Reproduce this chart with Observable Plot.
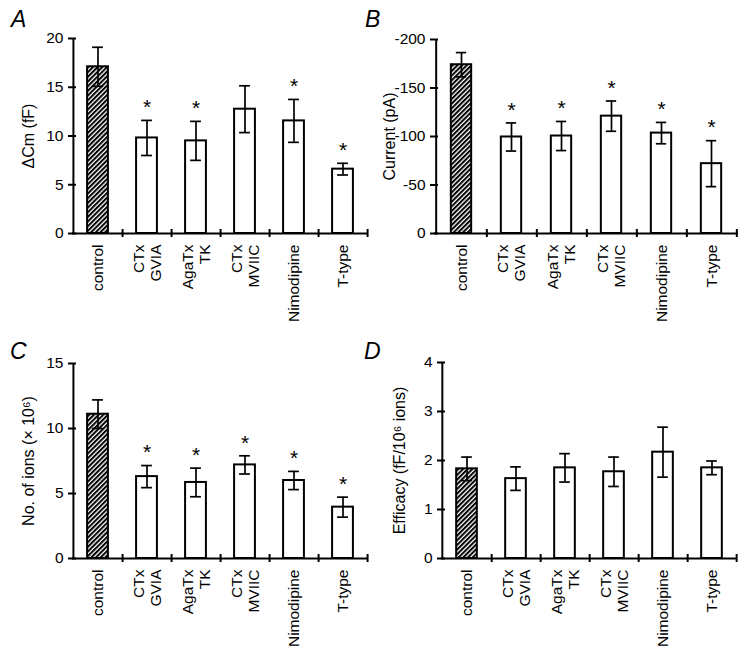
<!DOCTYPE html>
<html>
<head>
<meta charset="utf-8">
<script src="https://cdn.jsdelivr.net/npm/d3@7"></script>
<script src="https://cdn.jsdelivr.net/npm/@observablehq/plot@0.6"></script>
<style>
  html, body { margin: 0; padding: 0; background: white; }
  #root { position: relative; width: 745px; height: 655px; background: white; overflow: hidden; font-family: "Liberation Sans", Arial, sans-serif; }
  .panel { position: absolute; }
  .letter { position: absolute; font-style: italic; font-size: 23px; color: black; line-height: 1; }
</style>
</head>
<body>
<div id="root"></div>
<script>
// ---- data ----
const categories = ["control", "CTx GVIA", "AgaTx TK", "CTx MVIIC", "Nimodipine", "T-type"];
const categoryLabels = ["control", "CTx\nGVIA", "AgaTx\nTK", "CTx\nMVIIC", "Nimodipine", "T-type"];

// A: ΔCm (fF)
const dCmMean = [17.1, 9.8, 9.5, 12.75, 11.55, 6.6];
const dCmSem  = [2.0, 1.8, 2.0, 2.4, 2.2, 0.6];
const dCmSig  = [false, true, true, false, true, true];
const dCmTicks = [0, 5, 10, 15, 20];
const dCmTickLabels = ["0", "5", "10", "15", "20"];

// B: Current (pA)
const currentMean = [-174, -99.5, -100.5, -121, -103.5, -72];
const currentSem  = [12.5, 14.5, 15, 15.6, 11, 23.7];
const currentSig  = [false, true, true, true, true, true];
const currentTicks = [0, -50, -100, -150, -200];
const currentTickLabels = ["0", "-50", "-100", "-150", "-200"];

// C: No. of ions (x10^6)
const ionsMean = [11.1, 6.3, 5.85, 7.2, 6.0, 3.95];
const ionsSem  = [1.1, 0.85, 1.1, 0.7, 0.7, 0.77];
const ionsSig  = [false, true, true, true, true, true];
const ionsTicks = [0, 5, 10, 15];
const ionsTickLabels = ["0", "5", "10", "15"];

// D: Efficacy (fF/10^6 ions)
const effMean = [1.83, 1.63, 1.85, 1.77, 2.17, 1.85];
const effSem  = [0.24, 0.24, 0.29, 0.30, 0.51, 0.14];
const effSig  = [false, false, false, false, false, false];
const effTicks = [0, 1, 2, 3, 4];
const effTickLabels = ["0", "1", "2", "3", "4"];

const FONT = "'Liberation Sans', Arial, Helvetica, sans-serif";

function makePanel(cfg) {
  const {id, width, height, ml, mr, mt, mb, domain, ticks, tickLabels, mean, sem, sig, ylabel, labelDx} = cfg;
  const rows = categories.map((c, i) => ({cat: c, label: categoryLabels[i], mean: mean[i], sem: sem[i], sig: sig[i], control: i === 0}));
  const fw = width - ml - mr;
  const bw = fw / categories.length;
  const barInset = (bw - 21) / 2;
  const capInset = (bw - 11) / 2;
  const outer = d => d.mean + Math.sign(d.mean) * d.sem;
  const hatchId = "hatch-" + id;

  const svg = Plot.plot({
    width, height,
    marginLeft: ml, marginRight: mr, marginTop: mt, marginBottom: mb,
    style: {fontFamily: FONT, fontSize: "15px", color: "black", background: "white", overflow: "visible"},
    x: {type: "band", domain: categories, padding: 0, axis: null},
    y: {domain, axis: null},
    marks: [
      // bars
      Plot.barY(rows.filter(d => d.control), {x: "cat", y: "mean", fill: `url(#${hatchId})`, stroke: "black", strokeWidth: 2, insetLeft: barInset, insetRight: barInset}),
      Plot.barY(rows.filter(d => !d.control), {x: "cat", y: "mean", fill: "white", stroke: "black", strokeWidth: 2, insetLeft: barInset, insetRight: barInset}),
      // error bars
      Plot.ruleX(rows, {x: "cat", y1: d => d.mean - d.sem, y2: d => d.mean + d.sem, stroke: "black", strokeWidth: 1.7}),
      Plot.tickY(rows, {x: "cat", y: d => d.mean - d.sem, stroke: "black", strokeWidth: 1.7, insetLeft: capInset, insetRight: capInset}),
      Plot.tickY(rows, {x: "cat", y: d => d.mean + d.sem, stroke: "black", strokeWidth: 1.7, insetLeft: capInset, insetRight: capInset}),
      // significance asterisks
      Plot.text(rows.filter(d => d.sig), {x: "cat", y: outer, text: () => "*", fontSize: 21, dy: -13, fill: "black"}),
      // axis lines
      Plot.ruleY([0], {stroke: "black", strokeWidth: 2}),
      Plot.ruleX(categories.slice(0, 1), {x: d => d, dx: -bw / 2, stroke: "black", strokeWidth: 2}),
      // y ticks (crossing the axis)
      Plot.ruleY(ticks, {y: d => d, insetLeft: -4, insetRight: fw - 4, stroke: "black", strokeWidth: 2}),
      // x ticks at band boundaries (crossing the axis)
      Plot.ruleX(categories, {x: d => d, dx: bw / 2, y1: () => 0, y2: () => 0, insetTop: -4, insetBottom: -4, stroke: "black", strokeWidth: 2}),
      // y tick labels
      Plot.axisY({ticks, tickSize: 0, tickPadding: 9, fontSize: 15.5, label: null, tickFormat: v => tickLabels[ticks.indexOf(v)]}),
      // x category labels
      Plot.text(rows, {x: "cat", text: "label", frameAnchor: "bottom", rotate: -90, textAnchor: "end", lineAnchor: "middle", lineHeight: 1.1, dy: 11, fontSize: 15.5, fill: "black"}),
      // y label
      Plot.text([ylabel], {text: d => d, frameAnchor: "left", textAnchor: "middle", rotate: -90, dx: labelDx, fontSize: 16, fill: "black"})
    ]
  });

  // hatch pattern
  const ns = "http://www.w3.org/2000/svg";
  const defs = document.createElementNS(ns, "defs");
  const pat = document.createElementNS(ns, "pattern");
  pat.setAttribute("id", hatchId);
  pat.setAttribute("patternUnits", "userSpaceOnUse");
  pat.setAttribute("width", "3.3");
  pat.setAttribute("height", "3.3");
  pat.setAttribute("patternTransform", "rotate(45)");
  const bg = document.createElementNS(ns, "rect");
  bg.setAttribute("width", "3.3"); bg.setAttribute("height", "3.3"); bg.setAttribute("fill", "white");
  const ln = document.createElementNS(ns, "rect");
  ln.setAttribute("width", "2.0"); ln.setAttribute("height", "3.3"); ln.setAttribute("fill", "black");
  pat.appendChild(bg); pat.appendChild(ln);
  defs.appendChild(pat);
  svg.insertBefore(defs, svg.firstChild);
  return svg;
}

const root = document.getElementById("root");
function place(el, left, top) {
  const wrap = document.createElement("div");
  wrap.className = "panel";
  wrap.style.left = left + "px";
  wrap.style.top = top + "px";
  wrap.appendChild(el);
  root.appendChild(wrap);
}
function letter(t, left, top) {
  const d = document.createElement("div");
  d.className = "letter";
  d.textContent = t;
  d.style.left = left + "px";
  d.style.top = top + "px";
  root.appendChild(d);
}

place(makePanel({id: "a", width: 372, height: 330, ml: 72, mr: 5, mt: 38, mb: 97,
  domain: [0, 20], ticks: dCmTicks, tickLabels: dCmTickLabels, mean: dCmMean, sem: dCmSem, sig: dCmSig,
  ylabel: "ΔCm (fF)", labelDx: -44}), 0, 0);
place(makePanel({id: "b", width: 373, height: 330, ml: 62, mr: 7, mt: 39, mb: 97,
  domain: [0, -200], ticks: currentTicks, tickLabels: currentTickLabels, mean: currentMean, sem: currentSem, sig: currentSig,
  ylabel: "Current (pA)", labelDx: -45}), 372, 0);
place(makePanel({id: "c", width: 372, height: 325, ml: 72, mr: 5, mt: 33, mb: 97,
  domain: [0, 15], ticks: ionsTicks, tickLabels: ionsTickLabels, mean: ionsMean, sem: ionsSem, sig: ionsSig,
  ylabel: "No. of ions (× 10⁶)", labelDx: -44}), 0, 330);
place(makePanel({id: "d", width: 373, height: 325, ml: 69, mr: 8, mt: 32, mb: 97,
  domain: [0, 4], ticks: effTicks, tickLabels: effTickLabels, mean: effMean, sem: effSem, sig: effSig,
  ylabel: "Efficacy (fF/10⁶ ions)", labelDx: -42}), 372, 330);

letter("A", 11, 8);
letter("B", 365, 8);
letter("C", 10, 340);
letter("D", 364, 340);
</script>
</body>
</html>
